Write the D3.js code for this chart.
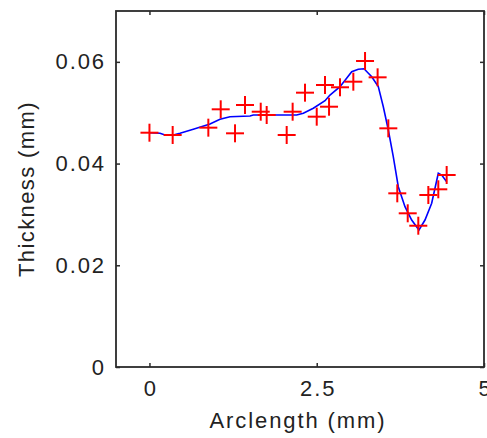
<!DOCTYPE html>
<html>
<head>
<meta charset="utf-8">
<script src="https://cdn.jsdelivr.net/npm/d3@7"></script>
<style>
  html, body { margin: 0; padding: 0; background: #fff; }
  svg { display: block; }
  text { font-family: "Liberation Sans", Arial, sans-serif; }
</style>
</head>
<body>
<svg id="chart" width="487" height="438"></svg>
<script>
// Measured data (red + markers)
const dataX = [0, 0.347, 0.88, 1.065, 1.279, 1.428, 1.663, 1.752, 2.051, 2.14, 2.325, 2.5, 2.624, 2.684, 2.848, 3.047, 3.222, 3.41, 3.57, 3.704, 3.86, 4.018, 4.168, 4.317, 4.442];
const dataY = [0.04607, 0.04562, 0.04706, 0.05067, 0.04595, 0.05152, 0.0502, 0.04955, 0.04562, 0.0502, 0.05394, 0.04922, 0.05545, 0.05118, 0.055, 0.0561, 0.06017, 0.05696, 0.04693, 0.03415, 0.03022, 0.02778, 0.03382, 0.03494, 0.03775];
// Fitted curve (blue line)
const fitX = [0, 0.158, 0.232, 0.356, 0.457, 0.655, 0.905, 1.054, 1.204, 1.503, 1.552, 1.8, 2.2, 2.3, 2.449, 2.624, 2.698, 2.848, 3.023, 3.121, 3.207, 3.322, 3.42, 3.495, 3.57, 3.644, 3.719, 3.819, 3.919, 4.028, 4.118, 4.218, 4.317, 4.368, 4.442];
const fitY = [0.04607, 0.04595, 0.04562, 0.04562, 0.04595, 0.04674, 0.04778, 0.0487, 0.04922, 0.04935, 0.04955, 0.04955, 0.04955, 0.04988, 0.05087, 0.05236, 0.05348, 0.05512, 0.05806, 0.05854, 0.05865, 0.05708, 0.05512, 0.05118, 0.0466, 0.04135, 0.03545, 0.03152, 0.0289, 0.02694, 0.0289, 0.03219, 0.03809, 0.03775, 0.03644];
const xTicks = [0, 2.5, 5];
const yTicks = [0, 0.02, 0.04, 0.06];
const xTickLabels = ["0", "2.5", "5"];
const yTickLabels = ["0", "0.02", "0.04", "0.06"];
const xLabel = "Arclength (mm)";
const yLabel = "Thickness (mm)";

const svg = d3.select("#chart");
const L = 116, R = 484, T = 11, B = 367;
const x = d3.scaleLinear().domain([-0.5, 5]).range([L, R]);
const y = d3.scaleLinear().domain([0, 0.07]).range([B, T]);
const axisColor = "#2b2b2b";
const fontSize = 22, ls = 1.9;

function styleAxis(g, showText) {
  g.select(".domain").remove();
  g.selectAll(".tick line").attr("stroke", axisColor).attr("stroke-width", 1.5);
  g.selectAll(".tick text")
    .attr("fill", "#222")
    .style("font-size", fontSize + "px")
    .style("letter-spacing", ls + "px")
    .style("display", showText ? null : "none");
}

// Bottom
svg.append("g").attr("transform", `translate(0,${B})`)
  .call(d3.axisBottom(x).tickValues(xTicks).tickFormat((d, i) => xTickLabels[i]).tickSizeInner(-4).tickSizeOuter(0).tickPadding(13))
  .call(g => styleAxis(g, true))
  .call(g => g.selectAll(".tick text").attr("dx", ls / 2));
// Top
svg.append("g").attr("transform", `translate(0,${T})`)
  .call(d3.axisTop(x).tickValues(xTicks).tickSizeInner(-4).tickSizeOuter(0))
  .call(g => styleAxis(g, false));
// Left
svg.append("g").attr("transform", `translate(${L},0)`)
  .call(d3.axisLeft(y).tickValues(yTicks).tickFormat((d, i) => yTickLabels[i]).tickSizeInner(-4).tickSizeOuter(0).tickPadding(10))
  .call(g => styleAxis(g, true));
// Right
svg.append("g").attr("transform", `translate(${R},0)`)
  .call(d3.axisRight(y).tickValues(yTicks).tickSizeInner(-4).tickSizeOuter(0))
  .call(g => styleAxis(g, false));

// Frame
svg.append("rect")
  .attr("x", L).attr("y", T).attr("width", R - L).attr("height", B - T)
  .attr("fill", "none").attr("stroke", axisColor).attr("stroke-width", 1.8);

// Fitted line
const line = d3.line().x(d => x(d[0])).y(d => y(d[1]));
svg.append("path")
  .datum(fitX.map((v, i) => [v, fitY[i]]))
  .attr("d", line)
  .attr("fill", "none")
  .attr("stroke", "#0000ff")
  .attr("stroke-width", 1.6);

// Plus markers
const plus = d3.symbol().type(d3.symbolCross);
const h = 9;
const pts = svg.append("g").selectAll("g").data(dataX.map((v, i) => [v, dataY[i]])).join("g")
  .attr("transform", d => `translate(${x(d[0])},${y(d[1])})`);
pts.append("line").attr("x1", -h).attr("x2", h).attr("y1", 0).attr("y2", 0)
  .attr("stroke", "#ff0000").attr("stroke-width", 2);
pts.append("line").attr("x1", 0).attr("x2", 0).attr("y1", -h).attr("y2", h)
  .attr("stroke", "#ff0000").attr("stroke-width", 2);

// Axis labels
svg.append("text")
  .attr("x", (L + R) / 2 - 2).attr("y", 428)
  .attr("text-anchor", "middle")
  .attr("fill", "#222")
  .style("font-size", fontSize + "px")
  .style("letter-spacing", ls + "px")
  .text(xLabel);
svg.append("text")
  .attr("transform", `translate(34,${(T + B) / 2}) rotate(-90)`)
  .attr("text-anchor", "middle")
  .attr("fill", "#222")
  .style("font-size", fontSize + "px")
  .style("letter-spacing", "1.4px")
  .text(yLabel);
</script>
</body>
</html>
